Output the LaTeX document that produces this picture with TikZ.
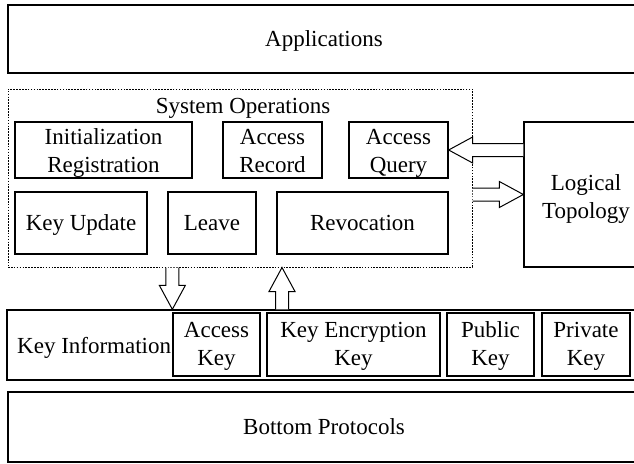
\documentclass[tikz,border=0pt]{standalone}
\usepackage{fontspec}
\setmainfont{Liberation Serif}
\usetikzlibrary{calc}

\tikzset{
  box/.style={draw, line width=1.3pt, align=center, inner sep=0pt},
  % vertical placement of labels: baseline of the last line lies #1 below the centre
  oneline/.style={text height=16.5pt, text depth=2.5pt},
  twolines/.style={text height=23.5pt+#1, text depth=23.5pt-#1},
  twolines/.default=22pt,
  opsframe/.style={draw, line width=1pt, dash pattern=on 1.6pt off 1.3pt},
  blockarr/.style={draw, fill=white, line width=1pt, line join=miter},
  txt/.style={inner sep=0pt, align=center}
}

% Hollow block arrow from #1 to #2 (shaft half width 6.5, head half width 13, head length 24)
\newcommand\blockarrow[2]{%
  \filldraw[blockarr] let \p1=(#1), \p2=(#2),
      \n1={atan2(\y2-\y1,\x2-\x1)}, \n2={veclen(\x2-\x1,\y2-\y1)} in
    [shift={(\p1)}, rotate=\n1]
    (0,-6.5) -- ({\n2-24},-6.5) -- ({\n2-24},-13) -- ({\n2},0)
    -- ({\n2-24},13) -- ({\n2-24},6.5) -- (0,6.5);
}

\begin{document}
\begin{tikzpicture}[x=1pt, y=-1pt, font=\fontsize{23}{27.5}\selectfont]
\useasboundingbox (0,0) rectangle (634,463);
\clip (0,0) rectangle (634,463);

% top layer
\node[box, oneline, minimum width=632, minimum height=68] (apps) at (324,39) {Applications};

% system operations group
\node[opsframe, minimum width=464, minimum height=178] (ops) at (240,178) {};
\node[txt, anchor=base] (opstitle) at (243,113) {System Operations};
\node[box, twolines, minimum width=177, minimum height=56] (init)   at (103.5,150) {Initialization\\Registration};
\node[box, twolines, minimum width=99,  minimum height=56] (record) at (272.5,150) {Access\\Record};
\node[box, twolines, minimum width=99,  minimum height=56] (query)  at (398.5,150) {Access\\Query};
\node[box, oneline, minimum width=132, minimum height=62] (keyupd) at (81,223)    {Key Update};
\node[box, oneline, minimum width=88,  minimum height=62] (leave)  at (212,223)   {Leave};
\node[box, oneline, minimum width=171, minimum height=62] (revoc)  at (362.5,223) {Revocation};

% logical topology
\node[box, twolines=23.5pt, minimum width=124, minimum height=145] (topo) at (586,194.5) {Logical\\Topology};

% key information layer
\node[box, minimum width=634, minimum height=70] (keyinfo) at (324,345) {};
\node[txt, anchor=base west] (kitext) at (17,353) {Key Information};
\node[box, twolines=20.5pt, minimum width=87,  minimum height=63] (ak)   at (216.5,344.5) {Access\\Key};
\node[box, twolines=20.5pt, minimum width=173, minimum height=63] (kek)  at (353.5,344.5) {Key Encryption\\Key};
\node[box, twolines=20.5pt, minimum width=87,  minimum height=63] (pub)  at (490.5,344.5) {Public\\Key};
\node[box, twolines=20.5pt, minimum width=88,  minimum height=63] (priv) at (586,344.5)   {Private\\Key};

% bottom layer
\node[box, oneline, minimum width=632, minimum height=70] (bottom) at (324,427) {Bottom Protocols};

% flows between layers
\coordinate (upx) at (282,0);
\blockarrow{ak.west |- ops.south}{ak.west |- keyinfo.north}
\blockarrow{upx |- keyinfo.north}{upx |- ops.south}
\blockarrow{topo.west |- query.east}{query.east}
\blockarrow{ops.east |- topo.west}{topo.west}
\end{tikzpicture}
\end{document}
